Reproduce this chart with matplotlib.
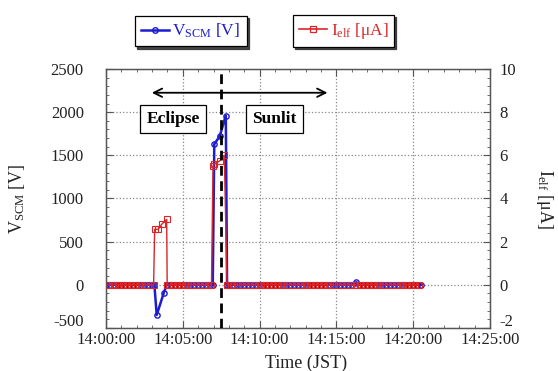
import matplotlib.pyplot as plt
import numpy as np
from matplotlib.ticker import MultipleLocator
from matplotlib.lines import Line2D

plt.rcParams['font.family'] = 'Liberation Serif'
plt.rcParams['mathtext.fontset'] = 'custom'
plt.rcParams['mathtext.rm'] = 'Liberation Serif'
plt.rcParams['axes.unicode_minus'] = False

# Data: time in seconds after 14:00:00
t_v = [0, 15, 30, 45, 60, 75, 90, 105, 120, 135, 150, 165, 180, 189,
       198, 225, 237,
       255, 270, 285, 300, 315, 330, 345, 360, 375, 390, 405, 417,
       423, 444, 468, 473,
       480, 495, 510, 525, 540, 555, 570, 585, 600, 615, 630, 645, 660, 675, 690, 705,
       720, 735, 750, 765, 780, 795, 810, 825, 840, 855, 870, 885, 900, 915, 930, 945, 960,
       978,
       990, 1005, 1020, 1035, 1050, 1065, 1080, 1095, 1110, 1125, 1140, 1155, 1170, 1185,
       1200, 1215, 1230]
v_scm = [0, 0, 0, 0, 0, 0, 0, 0, 0, 0, 0, 0, 0, 0,
         -350, -100, 0,
         0, 0, 0, 0, 0, 0, 0, 0, 0, 0, 0, 0,
         1630, 1720, 1960, 0,
         0, 0, 0, 0, 0, 0, 0, 0, 0, 0, 0, 0, 0, 0, 0, 0,
         0, 0, 0, 0, 0, 0, 0, 0, 0, 0, 0, 0, 0, 0, 0, 0, 0,
         30,
         0, 0, 0, 0, 0, 0, 0, 0, 0, 0, 0, 0, 0, 0,
         0, 0, 0]

t_i = [7, 22, 37, 52, 67, 82, 97, 112, 127, 142, 157, 172, 186,
       190, 204, 217, 237, 239,
       247, 262, 277, 292, 307, 322, 337, 352, 367, 382, 397, 412,
       418, 423, 445, 462, 473,
       487, 502, 517, 532, 547, 562, 577, 592, 607, 622, 637, 652, 667, 682, 697,
       712, 727, 742, 757, 772, 787, 802, 817, 832, 847, 862, 877, 892, 907, 922,
       937, 952, 967, 982, 997, 1012, 1027, 1042, 1057, 1072, 1087, 1102, 1117, 1132,
       1147, 1162, 1177, 1192, 1207, 1222]
i_elf = [0, 0, 0, 0, 0, 0, 0, 0, 0, 0, 0, 0, 0,
         2.57, 2.57, 2.8, 3.03, 0,
         0, 0, 0, 0, 0, 0, 0, 0, 0, 0, 0, 0,
         5.5, 5.6, 5.75, 6.0, 0,
         0, 0, 0, 0, 0, 0, 0, 0, 0, 0, 0, 0, 0, 0, 0,
         0, 0, 0, 0, 0, 0, 0, 0, 0, 0, 0, 0, 0, 0, 0,
         0, 0, 0, 0, 0, 0, 0, 0, 0, 0, 0, 0, 0, 0,
         0, 0, 0, 0, 0, 0]

x_ticks = [0, 5, 10, 15, 20, 25]
x_labels = ['14:00:00', '14:05:00', '14:10:00', '14:15:00', '14:20:00', '14:25:00']
v_ticks = [-500, 0, 500, 1000, 1500, 2000, 2500]
i_ticks = [-2, 0, 2, 4, 6, 8, 10]

blue = '#1c1cd0'
red = '#d8262a'
spine_col = '#555555'
text_col = '#222222'

fig = plt.figure(figsize=(5.58, 3.71), dpi=100)
ax = fig.add_axes([0.19, 0.116, 0.688, 0.698])
ax2 = ax.twinx()

ax.plot(np.array(t_v) / 60, v_scm, color=blue, lw=1.8, marker='o', ms=3.8,
        mfc='none', mew=1.0, zorder=3)
ax2.plot(np.array(t_i) / 60, i_elf, color=red, lw=1.0, marker='s', ms=3.8,
         mfc='none', mew=0.8, zorder=3)

ax.set_xlim(0, 25)
ax.set_ylim(-500, 2500)
ax2.set_ylim(-2, 10)
ax.set_xticks(x_ticks)
ax.set_xticklabels(x_labels)
ax.xaxis.set_minor_locator(MultipleLocator(1))
# lowest labels are placed by hand a little above the bottom edge
ax.set_yticks(v_ticks, [''] + [str(v) for v in v_ticks[1:]])
ax.yaxis.set_minor_locator(MultipleLocator(100))
ax2.set_yticks(i_ticks, [''] + [str(v) for v in i_ticks[1:]])
ax2.yaxis.set_minor_locator(MultipleLocator(0.4))

ax.grid(True, which='major', linestyle=':', color='#888888', lw=0.9)

for a in (ax, ax2):
    for s in a.spines.values():
        s.set_color(spine_col)
        s.set_linewidth(0.9)
ax.tick_params(which='both', direction='in', top=True, right=False,
               color=spine_col, labelcolor=text_col, labelsize=12)
ax.tick_params(which='major', length=5)
ax.tick_params(which='minor', length=2.5)
ax.tick_params(axis='y', pad=16)
ax.tick_params(axis='x', pad=3)
ax2.tick_params(which='both', direction='in', color=spine_col,
                labelcolor=text_col, labelsize=12, pad=7)
ax2.tick_params(which='major', length=5)
ax2.tick_params(which='minor', length=2.5)

ax.annotate(str(v_ticks[0]), xy=(0, v_ticks[0]), xycoords=('axes fraction', 'data'),
            xytext=(-16, 4), textcoords='offset points', ha='right', va='center',
            fontsize=12, color=text_col)
ax2.annotate(str(i_ticks[0]), xy=(1, i_ticks[0]), xycoords=('axes fraction', 'data'),
             xytext=(7, 4), textcoords='offset points', ha='left', va='center',
             fontsize=12, color=text_col)

ax.set_ylabel(r'$\mathrm{V_{SCM}}$ [V]', fontsize=13, color=text_col)
ax.yaxis.set_label_coords(-0.205, 0.5)
ax2.set_ylabel(r'$\mathrm{I_{elf}}$ [μA]', fontsize=13, color=text_col,
               rotation=-90, va='center')
ax2.yaxis.set_label_coords(1.143, 0.5)
ax.set_xlabel('Time (JST)', fontsize=13, color=text_col, va='center')
ax.xaxis.set_label_coords(0.52, -0.135)

# Eclipse / Sunlit boundary
ax2.axvline(7.5, color='black', ls=(0, (3.5, 2)), lw=2, zorder=5)
ax.annotate('', xy=(2.8, 2225), xytext=(14.6, 2225),
            arrowprops=dict(arrowstyle='<->,head_length=0.6,head_width=0.3',
                            color='black', lw=1.3))
box = dict(boxstyle='square,pad=0.35', fc='white', ec='black', lw=0.9)
ax.text(4.36, 1925, 'Eclipse', ha='center', va='center', fontsize=12.5,
        fontweight='bold', bbox=box, zorder=6)
ax.text(10.97, 1925, 'Sunlit', ha='center', va='center', fontsize=12.5,
        fontweight='bold', bbox=box, zorder=6)

# Separate legend boxes above the plot
h_v = Line2D([], [], color=blue, lw=1.8, marker='o', ms=4, mfc='none', mew=1.0)
h_i = Line2D([], [], color=red, lw=1.2, marker='s', ms=4.5, mfc='none', mew=0.9)
shadow = {'color': '0.2', 'alpha': 0.9, 'ox': 1.6, 'oy': -1.6}
leg1 = fig.legend([h_v], [r'$\mathrm{V_{SCM}}$ [V]'], loc='center',
                  bbox_to_anchor=(0.342, 0.916), fancybox=False, shadow=shadow,
                  edgecolor='black', fontsize=12.5, handlelength=1.6,
                  handletextpad=0.2, borderpad=0.35, framealpha=1)
for txt in leg1.get_texts():
    txt.set_color(blue)
leg2 = fig.legend([h_i], [r'$\mathrm{I_{elf}}$ [μA]'], loc='center',
                  bbox_to_anchor=(0.616, 0.916), fancybox=False, shadow=shadow,
                  edgecolor='black', fontsize=12.5, handlelength=1.6,
                  handletextpad=0.2, borderpad=0.35, framealpha=1)
for txt in leg2.get_texts():
    txt.set_color(red)
leg1.get_frame().set_linewidth(0.9)
leg2.get_frame().set_linewidth(0.9)

fig.savefig('out.png', dpi=100)
